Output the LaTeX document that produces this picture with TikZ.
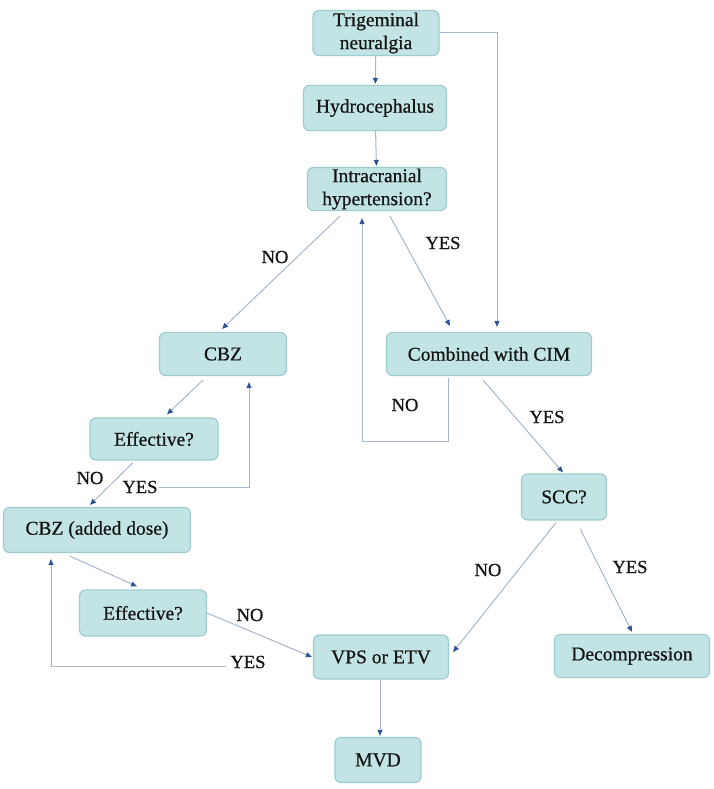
\documentclass[tikz,border=0pt]{standalone}
\usepackage{fontspec}
\setmainfont{Liberation Serif}
\newfontfamily\boxfont{Liberation Serif}[AutoFakeBold=0.7]
\usetikzlibrary{arrows.meta,calc}
\definecolor{boxfill}{HTML}{C3E4E4}
\definecolor{boxdraw}{HTML}{9DCDCE}
\definecolor{linecol}{HTML}{A7B7CA}
\definecolor{tipcol}{HTML}{2F5597}
\definecolor{txtcol}{HTML}{151515}
\tikzset{
  box/.style={draw=boxdraw, line width=1.2pt, fill=boxfill, rounded corners=6pt,
    font=\boxfont\bfseries\fontsize{19.5}{23}\selectfont, text=txtcol, align=center, inner sep=2pt},
  lbl/.style={font=\boxfont\bfseries\fontsize{18.5}{20}\selectfont, text=txtcol, inner sep=1pt},
  conn/.style={draw=linecol, line width=1pt, -{Triangle[length=6pt,width=5pt,color=tipcol]}},
}
\begin{document}
\begin{tikzpicture}[x=1pt,y=-1pt]
\useasboundingbox (0,0) rectangle (714,789);
% nodes
\node[box, minimum width=126pt, minimum height=45pt] (tn) at (376,33) {Trigeminal\\neuralgia};
\node[box, minimum width=143pt, minimum height=45pt] (hc) at (375,108) {Hydrocephalus};
\node[box, minimum width=139pt, minimum height=43pt, inner sep=0pt] (ich) at (377,189) {Intracranial\\hypertension?};
\node[box, minimum width=127pt, minimum height=43pt] (cbz) at (223,354) {CBZ};
\node[box, minimum width=205pt, minimum height=43pt] (cim) at (489,354) {Combined with CIM};
\node[box, minimum width=128pt, minimum height=42pt] (eff1) at (154,439) {Effective?};
\node[box, minimum width=85pt, minimum height=46pt] (scc) at (564,497) {SCC?};
\node[box, minimum width=187pt, minimum height=45pt] (cbz2) at (97,530) {CBZ (added dose)};
\node[box, minimum width=127pt, minimum height=46pt] (eff2) at (143,613) {Effective?};
\node[box, minimum width=135pt, minimum height=44pt] (vps) at (381,657) {VPS or ETV};
\node[box, minimum width=155pt, minimum height=43pt] (dec) at (632,656) {Decompression};
\node[box, minimum width=86pt, minimum height=45pt] (mvd) at (378,760) {MVD};
% labels
\node[lbl] (l1) at (275,257) {NO};
\node[lbl] (l2) at (443,243) {YES};
\node[lbl] (l3) at (405,405) {NO};
\node[lbl] (l4) at (547,417) {YES};
\node[lbl] (l5) at (488,570) {NO};
\node[lbl] (l6) at (630,567) {YES};
\node[lbl] (l7) at (90,478) {NO};
\node[lbl] (l8) at (140,487) {YES};
\node[lbl] (l9) at (250,615) {NO};
\node[lbl] (l10) at (248,662) {YES};
% connectors
\draw[conn, shorten >=1pt] (tn) -- (hc);
\draw[conn, shorten >=1pt] (hc) -- (ich);
\draw[conn, shorten >=5pt] (tn.east) -| ($(cim.north)+(8,0)$);
\draw[conn] ($(ich.south)+(-37,5)$) -- ($(cbz.north)+(-1,-3)$);
\draw[conn] ($(ich.south)+(13,5)$) -- ($(cim.north)+(-39,-6)$);
\draw[conn] ($(cim.south)+(-41,2)$) |- ($(ich.south)+(-15,230)$) -- ($(ich.south)+(-15,7)$);
\draw[conn] ($(cim.south)+(-6,4)$) -- ($(scc.north)+(-1,-1)$);
\draw[conn] ($(scc.south)+(-8,2)$) -- ($(vps.east)+(4,-5)$);
\draw[conn] ($(scc.south)+(16,8)$) -- ($(dec.north)+(0,-2)$);
\draw[conn] ($(cbz.south)+(-20,4)$) -- ($(eff1.north)+(13,-3)$);
\draw[conn] ($(eff1.south)+(-21,2)$) -- ($(cbz2.north)+(-7,-2)$);
\draw[conn] (l8.east) -| ($(cbz.south)+(26,6)$);
\draw[conn] ($(cbz2.south)+(-27,3)$) -- ($(eff2.north)+(-6,-3)$);
\draw[conn] (eff2.east) -- ($(vps.west)+(-1,0)$);
\draw[conn] ($(l10.west)+(-3,4)$) -| ($(cbz2.south)+(-46,6)$);
\draw[conn, shorten >=1pt] ($(vps.south)+(-1,0)$) -- ($(mvd.north)+(2,0)$);
\end{tikzpicture}
\end{document}
